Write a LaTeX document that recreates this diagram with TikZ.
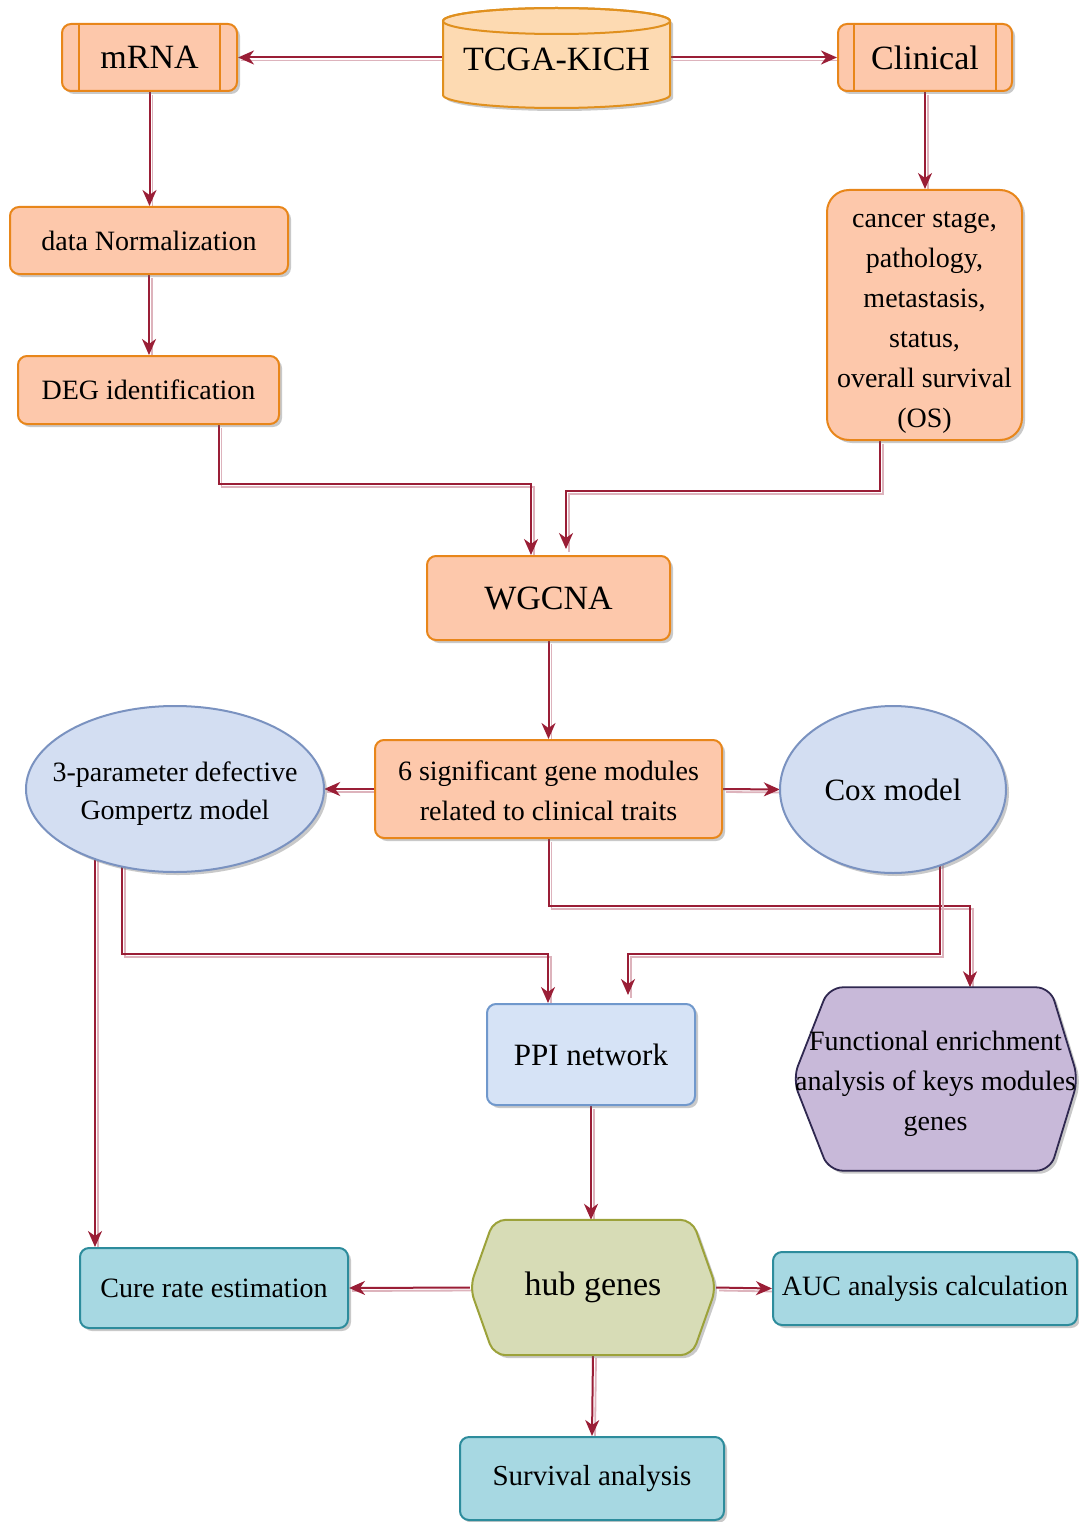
\documentclass[tikz,border=0pt]{standalone}
\usepackage{fontspec}
\setmainfont{Liberation Serif}
\usetikzlibrary{shadows,arrows.meta,calc,shapes.geometric}
\pgfdeclarelayer{paper}
\pgfdeclarelayer{links}
\pgfdeclarelayer{outlines}
\pgfsetlayers{paper,links,outlines,main}

\definecolor{peachfill}{HTML}{FDC8AB}
\definecolor{peachline}{HTML}{E8861A}
\definecolor{cylfill}{HTML}{FDDAB2}
\definecolor{cylline}{HTML}{E0901E}
\definecolor{bluefill}{HTML}{D3DEF2}
\definecolor{blueline}{HTML}{7A92C0}
\definecolor{ppifill}{HTML}{D6E3F6}
\definecolor{ppiline}{HTML}{7098CC}
\definecolor{purpfill}{HTML}{C8B9D9}
\definecolor{purpline}{HTML}{2F2850}
\definecolor{olivefill}{HTML}{D7DCB6}
\definecolor{oliveline}{HTML}{9CA23A}
\definecolor{cyanfill}{HTML}{A7D8E2}
\definecolor{cyanline}{HTML}{2D8C9C}
\definecolor{linkred}{HTML}{9A1E36}
\definecolor{linkshade}{HTML}{DDB3BC}

\newcommand\setfs[2]{\fontsize{#1}{#2}\selectfont}

\tikzset{
  softshadow/.style={drop shadow={shadow xshift=3pt,shadow yshift=-3pt,opacity=0.35,fill=black!60}},
  card/.style={rectangle, rounded corners=9pt, line width=2pt, align=center,
    inner sep=0pt, font=\setfs{28}{40}},
  peachbox/.style={card, softshadow, fill=peachfill, draw=peachline},
  cyanbox/.style={card, softshadow, fill=cyanfill, draw=cyanline},
  ppibox/.style={card, softshadow, fill=ppifill, draw=ppiline},
  ovalshape/.style={softshadow, fill=bluefill, draw=blueline, line width=2pt},
  labelonly/.style={rectangle, draw=none, fill=none, inner sep=0pt, align=center,
    font=\setfs{28}{40}},
  cylshape/.style={softshadow, fill=cylfill, draw=cylline, line width=2pt},
  hexhub/.style={softshadow, fill=olivefill, draw=oliveline, line width=2pt, rounded corners=12pt},
  hexfunc/.style={softshadow, fill=purpfill, draw=purpline, line width=1.8pt, rounded corners=14pt},
  procline/.style={draw=peachline, line width=2pt},
  link/.style={draw=linkred, line width=2pt,
    -{Stealth[length=16pt,width=14pt,inset=5pt]},
    preaction={draw=linkshade, line width=1.8pt, -,
      transform canvas={shift={(3pt,-3pt)}}}},
}

\begin{document}
\begin{tikzpicture}[x=1pt,y=-1pt]
\useasboundingbox (0,0) rectangle (1078,1522);
\begin{pgfonlayer}{paper}
  \fill[white] (0,0) rectangle (1078,1522);
\end{pgfonlayer}

% ---- data source (cylinder) ----
\begin{pgfonlayer}{outlines}
  \path[cylshape] (443,21) -- (443,95)
    arc[start angle=180,end angle=0,x radius=113.5,y radius=13] -- (670,21)
    arc[start angle=0,end angle=-180,x radius=113.5,y radius=13] -- cycle;
  \draw[draw=cylline, line width=2pt] (556.5,21) ellipse [x radius=113.5, y radius=13];
\end{pgfonlayer}
\node[labelonly, minimum width=227pt, minimum height=100pt, font=\setfs{34}{40}] (tcga) at (556.5,59) {TCGA-KICH};

% ---- top row: predefined-process boxes ----
\node[peachbox, minimum width=175pt, minimum height=67pt, font=\setfs{34}{40}] (mrna) at (149.5,57.5) {mRNA};
\draw[procline] ([xshift=18pt]mrna.north west) -- ([xshift=18pt]mrna.south west);
\draw[procline] ([xshift=-18pt]mrna.north east) -- ([xshift=-18pt]mrna.south east);

\node[peachbox, minimum width=174pt, minimum height=67pt, font=\setfs{34}{40}] (clin) at (925,57.5) {Clinical};
\draw[procline] ([xshift=17pt]clin.north west) -- ([xshift=17pt]clin.south west);
\draw[procline] ([xshift=-17pt]clin.north east) -- ([xshift=-17pt]clin.south east);

% ---- preprocessing ----
\node[peachbox, minimum width=278pt, minimum height=67pt] (norm) at (149,240.5) {data Normalization};
\node[peachbox, minimum width=261pt, minimum height=68pt] (deg) at (148.5,390) {DEG identification};
\node[peachbox, rounded corners=22pt, minimum width=195pt, minimum height=250pt] (traits) at (924.5,315)
  {\rule{0pt}{30pt}cancer stage,\\ pathology,\\ metastasis,\\ status,\\ overall survival\\ (OS)};

% ---- network analysis ----
\node[peachbox, minimum width=243pt, minimum height=84pt, font=\setfs{34}{40}] (wgcna) at (548.5,598) {WGCNA};
\node[peachbox, minimum width=347pt, minimum height=98pt] (sig) at (548.5,789)
  {\rule{0pt}{24pt}6 significant gene modules\\ related to clinical traits};

\node[labelonly, minimum width=298pt, minimum height=166pt, font=\setfs{28}{38}] (gomp) at (175,789)
  {\rule{0pt}{28pt}3-parameter defective\\ Gompertz model};
\node[labelonly, minimum width=226pt, minimum height=167pt, font=\setfs{31}{38}] (cox) at (893,789.5) {Cox model};
\begin{pgfonlayer}{outlines}
  \path[ovalshape] (gomp.center) ellipse [x radius=149, y radius=83];
  \path[ovalshape] (cox.center) ellipse [x radius=113, y radius=83.5];
\end{pgfonlayer}

\node[ppibox, minimum width=208pt, minimum height=101pt, font=\setfs{31}{40}] (ppi) at (591,1054.5) {PPI network};

% ---- hexagons ----
\node[labelonly, minimum width=285pt, minimum height=183pt] (func) at (935.5,1079)
  {\rule{0pt}{30pt}Functional enrichment\\ analysis of keys modules\\ genes};
\node[labelonly, minimum width=246pt, minimum height=135pt, font=\setfs{34}{40}] (hub) at (593,1287.5) {hub genes};
\begin{pgfonlayer}{outlines}
  \path[hexfunc] (func.west) -- ([xshift=36pt]func.north west) -- ([xshift=-28pt]func.north east)
    -- (func.east) -- ([xshift=-28pt]func.south east) -- ([xshift=36pt]func.south west) -- cycle;
  \path[hexhub] (hub.west) -- ([xshift=24pt]hub.north west) -- ([xshift=-24pt]hub.north east)
    -- (hub.east) -- ([xshift=-24pt]hub.south east) -- ([xshift=24pt]hub.south west) -- cycle;
\end{pgfonlayer}

% ---- results ----
\node[cyanbox, minimum width=268pt, minimum height=80pt] (cure) at (214,1288) {Cure rate estimation};
\node[cyanbox, minimum width=304pt, minimum height=73pt] (auc) at (925,1288.5) {AUC analysis calculation};
\node[cyanbox, minimum width=264pt, minimum height=83pt, font=\setfs{29}{40}] (surv) at (592,1478.5) {Survival analysis};

% ---- connectors ----
\begin{pgfonlayer}{links}
  \draw[link] (tcga.west |- mrna.east) -- (mrna.east);
  \draw[link] (tcga.east |- clin.west) -- (clin.west);
  \draw[link] (mrna.south) -- (mrna.south |- norm.north);
  \draw[link] (norm.south) -- (norm.south |- deg.north);
  \draw[link] (clin.south) -- (clin.south |- traits.north);
  \draw[link] ([xshift=70pt]deg.south) -- ++(0,59) -| ([xshift=-17.5pt]wgcna.north);
  \draw[link] ([xshift=-44.5pt]traits.south) -- ++(0,50) -| ([xshift=17.5pt,yshift=6pt]wgcna.north);
  \draw[link] (wgcna.south) -- (sig.north);
  \draw[link] (sig.west) -- (gomp.east);
  \draw[link] (sig.east) -- (cox.west);
  \draw[link] (sig.south) |- ([xshift=34.5pt,yshift=81pt]func.north) -- ([xshift=34.5pt]func.north);
  \draw[link] ([xshift=-53pt]gomp.center) |- ([xshift=-43pt,yshift=49pt]ppi.north) -- ([xshift=-43pt]ppi.north);
  \draw[link] ([xshift=47pt]cox.center) |- ([xshift=37pt,yshift=49pt]ppi.north) -- ([xshift=37pt,yshift=8pt]ppi.north);
  \draw[link] ([xshift=-80pt]gomp.center) -- ([xshift=-119pt]cure.north);
  \draw[link] (ppi.south) -- (ppi.south |- hub.north);
  \draw[link] (hub.west) -- (cure.east);
  \draw[link] (hub.east) -- (auc.west);
  \draw[link] (hub.south) -- (surv.north);
\end{pgfonlayer}
\end{tikzpicture}
\end{document}
